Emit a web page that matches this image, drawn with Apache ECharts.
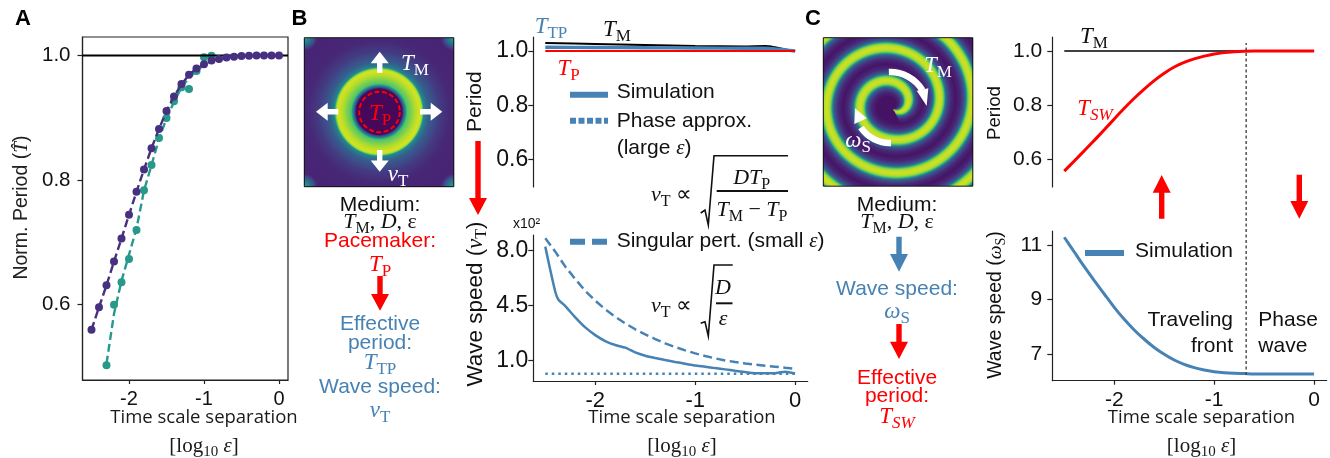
<!DOCTYPE html>
<html><head><meta charset="utf-8">
<style>html,body{margin:0;padding:0;background:#fff}#c{width:1330px;height:458px}</style>
<script src="https://cdn.jsdelivr.net/npm/echarts@6/dist/echarts.min.js"></script>
</head><body><div id="c"></div>
<script>
// ---- data ----
const xTicks = [-2, -1, 0];
const periodTicks = [0.6, 0.8, 1.0];
const speedTicksB = [1.0, 4.5, 8.0];
const speedTicksC = [7, 9, 11];
const epsA = [-2.5,-2.4,-2.3,-2.2,-2.1,-2.0,-1.9,-1.8,-1.7,-1.6,-1.5,-1.4,-1.3,-1.2,-1.1,-1.0,-0.9,-0.8,-0.7,-0.6,-0.5,-0.4,-0.3,-0.2,-0.1,0];
const purplePeriod = [0.5595,0.5955,0.631,0.669,0.706,0.744,0.781,0.817,0.851,0.882,0.911,0.934,0.954,0.969,0.979,0.986,0.992,0.9944,0.9966,0.998,0.999,0.9995,0.9998,1,1,1];
const tealEps = [-2.3,-2.2,-2.1,-2.0,-1.9,-1.8,-1.7,-1.6,-1.5,-1.4,-1.3,-1.2,-1.1,-1.0,-0.9];
const tealPeriod = [0.5023,0.5997,0.6356,0.673,0.7197,0.7835,0.824,0.8675,0.8996,0.9264,0.949,0.946,0.975,0.997,0.9995];
const tealFit = [0.505,0.585,0.638,0.68,0.722,0.783,0.824,0.866,0.899,0.925,0.949,0.964,0.975,0.985,0.99];
const epsB = [-2.5,-2.45,-2.4,-2.37,-2.3,-2.2,-2.1,-2.0,-1.9,-1.8,-1.7,-1.6,-1.5,-1.4,-1.3,-1.2,-1.1,-1.0,-0.9,-0.8,-0.7,-0.6,-0.5,-0.4,-0.3,-0.2,-0.1,0];
const simSpeedB = [8.26,6.77,5.39,4.9,4.48,3.76,3.12,2.63,2.25,2.0,1.83,1.53,1.32,1.17,1.04,0.92,0.81,0.70,0.62,0.53,0.45,0.36,0.28,0.21,0.2,0.21,0.3,0.19];
const epsC = [-2.5,-2.4,-2.3,-2.2,-2.1,-2.0,-1.9,-1.8,-1.7,-1.6,-1.5,-1.4,-1.3,-1.2,-1.1,-1.0,-0.9,-0.8,-0.7,-0.6,-0.5,-0.4,-0.3,-0.2,-0.1,0];
const singSpeedB = [8.79,7.94,6.99,6.2,5.44,4.82,4.27,3.8,3.38,3.0,2.68,2.38,2.1,1.87,1.66,1.47,1.3,1.15,1.02,0.92,0.83,0.75,0.68,0.62,0.55,0.49];
const phaseEps = [-2.5,0];
const phaseSpeedB = [0.17,0.17];
const tmEpsB = [-2.5,-2,-1.5,-1,-0.5,-0.3,-0.2,-0.1,0];
const tmPeriodB = [1.029,1.026,1.022,1.018,1.017,1.018,1.0135,1.006,1.0];
const ttpPeriodB = [1.014,1.013,1.012,1.011,1.01,1.01,1.008,1.004,1.0];
const tpPeriodB = [1,1,1,1,1,1,1,1,1];
const tswPeriod = [0.558,0.595,0.633,0.671,0.710,0.750,0.789,0.826,0.860,0.891,0.918,0.941,0.958,0.971,0.981,0.989,0.994,0.997,0.999,1,1,1,1,1,1,1];
const omegaSpeed = [11.28,10.74,10.2,9.69,9.2,8.71,8.27,7.88,7.54,7.24,6.99,6.78,6.62,6.5,6.41,6.35,6.31,6.29,6.28,6.27,6.27,6.27,6.27,6.27,6.27,6.27];
const transitionEps = -0.68;

// ---- helpers ----
const zip = (a,b)=>a.map((v,i)=>[v,b[i]]);
const RED='#ff0000', BLUE='#4682b4', INK='#1a1a1a';
const SANS='"Liberation Sans",Arial,sans-serif', SERIF='"Liberation Serif",serif', TITLE='"Open Sans",sans-serif';
const g=[];
function T(x,y,text,o={}){
  g.push({type:'text',x,y,rotation:o.rot||0,silent:true,z:50,style:{text,fontSize:o.size||21,fontFamily:o.font||SANS,fontWeight:o.weight||'normal',
    fontStyle:o.style||'normal',fill:o.color||'#111',align:o.align||'center',verticalAlign:'middle',rich:o.rich}});
}
function richFor(size,color){
  const s=Math.round(size*0.72);
  return {
    i:{fontFamily:SERIF,fontStyle:'italic',fontSize:size,fill:color,lineHeight:Math.round(size*1.3)},
    s:{fontFamily:SERIF,fontSize:s,fill:color,lineHeight:s,verticalAlign:'bottom'},
    si:{fontFamily:SERIF,fontStyle:'italic',fontSize:s,fill:color,lineHeight:s,verticalAlign:'bottom'},
    r:{fontFamily:SERIF,fontSize:size,fill:color,lineHeight:Math.round(size*1.3)},
    a:{fontFamily:SANS,fontSize:size,fill:color,lineHeight:Math.round(size*1.3)}
  };
}
function M(x,y,text,o={}){T(x,y,text,{...o,rich:richFor(o.size||23,o.color||'#111')});}
function poly(points,fill,z){g.push({type:'polygon',silent:true,z:z||40,shape:{points},style:{fill}});}
function line(x1,y1,x2,y2,st){g.push({type:'line',silent:true,z:40,shape:{x1,y1,x2,y2},style:{stroke:'#111',lineWidth:1,...st}});}
function vArrow(cx,y0,yb,yt,col,hw,sw){ // y0 shaft start, yb head base, yt tip
  hw=hw||9;sw=sw||2.7;
  poly([[cx-sw,y0],[cx+sw,y0],[cx+sw,yb],[cx+hw,yb],[cx,yt],[cx-hw,yb],[cx-sw,yb]],col);
}
function hArrow(cy,x0,xb,xt,col,hw,sw){
  hw=hw||9;sw=sw||2.7;
  poly([[x0,cy-sw],[x0,cy+sw],[xb,cy+sw],[xb,cy+hw],[xt,cy],[xb,cy-hw],[xb,cy-sw]],col);
}
// viridis colour lookup for the two illustrations
const VIR=[[68,1,84],[72,36,117],[65,68,135],[53,95,141],[42,120,142],[33,145,140],[34,168,132],[68,191,112],[122,209,81],[189,223,38],[253,231,37]];
function vir(v){v=Math.max(0,Math.min(0.9999,v))*10;const i=Math.floor(v),f=v-i;return VIR[i].map((c,k)=>c+(VIR[i+1][k]-c)*f);}
const ramp=(p,v)=>{for(let i=1;i<p.length;i++){if(v<=p[i][0]){const f=(v-p[i-1][0])/(p[i][0]-p[i-1][0]);return p[i-1][1]+(p[i][1]-p[i-1][1])*f;}}return p[p.length-1][1];};
function paint(w,h,fn){
  const c=document.createElement('canvas');c.width=w;c.height=h;const x=c.getContext('2d');const d=x.createImageData(w,h);
  for(let j=0;j<h;j++)for(let i=0;i<w;i++){const p=vir(fn(i+0.5,j+0.5));const k=(j*w+i)*4;d.data[k]=p[0];d.data[k+1]=p[1];d.data[k+2]=p[2];d.data[k+3]=255;}
  x.putImageData(d,0,0);return c;
}
const targetProfile=[[0,0.02],[23,0.02],[25,0.3],[28,0.72],[36,0.88],[41,0.94],[43,0.88],[45,0.45],[50,0.3],[60,0.18],[72,0.11],[90,0.1],[200,0.1]];
const targetImg=paint(150,150,(x,y)=>{
  const r=Math.hypot(x-75,y-74.5);let v=ramp(targetProfile,r);
  const corner=Math.min(Math.hypot(x,y),Math.hypot(150-x,y),Math.hypot(x,150-y),Math.hypot(150-x,150-y));
  if(corner<13)v=Math.max(v,0.62-corner*0.04);
  return v;
});
const spiralProfile=[[0,0.93],[3,0.88],[4.8,0.72],[6.2,0.42],[8,0.25],[12,0.11],[17,0.05],[60,0.05]];
const spiralImg=paint(150,149,(x,y)=>{
  const dx=x-(250-40)/3,dy=y-(328-113)/3;const r=Math.hypot(dx,dy);let th=Math.atan2(-dy,dx);if(th<0)th+=2*Math.PI;
  let best=1e9;
  for(let k=-1;k<5;k++){const t=th+2*Math.PI*k;if(t<-1.3)continue;
    const r0=(40+100*t/(2*Math.PI)-7.5*Math.cos(t)+20.5*Math.sin(t)+2.5*Math.cos(2*t))/3;
    if(r0<0)continue;
    best=Math.min(best,Math.abs(r-r0));}
  return ramp(spiralProfile,best);
});
function image(c,x,y,w,h){
  g.push({type:'image',silent:true,z:30,style:{image:c,x,y,width:w,height:h}});
  g.push({type:'rect',silent:true,z:31,shape:{x,y,width:w,height:h},style:{fill:'none',stroke:'#111',lineWidth:1}});
}

// ---- panel letters ----
T(23,19,'A',{size:22,weight:'bold',color:'#000'});
T(299.5,19,'B',{size:22,weight:'bold',color:'#000'});
T(813,19,'C',{size:22,weight:'bold',color:'#000'});

// ---- axis titles ----
function xTitle(cx){
  T(cx,417.3,'Time scale separation',{size:18.5,font:TITLE,color:'#1a1a1a'});
  M(cx,446,'{r|[log}{s|10}{r| }{i|ε}{r|]}',{size:21,color:'#1a1a1a'});
}
xTitle(204);xTitle(682);xTitle(1201.5);
M(22,207.5,'{a|Norm. Period (}{i|T\u0302}{a|)}',{size:19.5,rot:Math.PI/2,color:'#222'});
T(475.7,101.7,'Period',{size:21,rot:Math.PI/2,color:'#111'});
M(475.7,304,'{a|Wave speed (}{i|v}{s|T}{a|)}',{size:22.5,rot:Math.PI/2,color:'#111'});
T(995,113,'Period',{size:18.7,rot:Math.PI/2,color:'#111'});
M(996,305,'{a|Wave speed (}{i|ω}{s|S}{a|)}',{size:19.5,rot:Math.PI/2,color:'#111'});

// ---- panel B illustration ----
image(targetImg,304.3,37.7,149.5,149);
g.push({type:'circle',silent:true,z:35,shape:{cx:379.5,cy:112,r:20.3},style:{fill:'none',stroke:RED,lineWidth:2,lineDash:[5,2.5]}});
vArrow(379.7,72.7,63.3,51.7,'#fff');
vArrow(379.7,150,160.5,171.7,'#fff');
hArrow(111.7,420,430.7,442.3,'#fff');
hArrow(111.7,338.3,327.7,316,'#fff');
M(415,64,'{i|T}{s|M}',{color:'#fff'});
M(398,175,'{i|v}{s|T}',{color:'#fff'});
M(380,114,'{i|T}{s|P}',{color:RED});
// ---- panel B flow text ----
T(380,205,'Medium:',{size:21});
M(380,222,'{i|T}{s|M}{r|, }{i|D}{r|, ε}',{size:22});
T(380,241.7,'Pacemaker:',{size:21,color:RED});
M(380,265,'{i|T}{s|P}',{color:RED});
vArrow(380,276,294,310.7,RED);
T(380,324.3,'Effective',{size:21,color:BLUE});
T(380,343,'period:',{size:21,color:BLUE});
M(380,363,'{i|T}{s|TP}',{color:BLUE});
T(380,387.7,'Wave speed:',{size:21,color:BLUE});
M(380,411,'{i|v}{s|T}',{color:BLUE});
// ---- panel B chart notes ----
M(551,27,'{i|T}{s|TP}',{color:BLUE});
M(617,30,'{i|T}{s|M}',{color:'#111'});
M(568.5,69,'{i|T}{s|P}',{color:RED});
vArrow(478,141,198,215,RED);
// legend B
line(570,94.7,608,94.7,{stroke:BLUE,lineWidth:6});
T(616.7,92,'Simulation',{align:'left',size:21});
line(570,120.7,608,120.7,{stroke:BLUE,lineWidth:6,lineDash:[6,2.5]});
T(616.7,121.7,'Phase approx.',{align:'left',size:21});
M(616.7,148,'{a|(large }{i|ε}{a|)}',{align:'left',size:21});
line(570,241.7,608,241.7,{stroke:BLUE,lineWidth:6,lineDash:[15,7]});
M(616.7,241.7,'{a|Singular pert. (small }{i|ε}{a|)}',{align:'left',size:21});
T(513,224,'x10²',{align:'left',size:14});
// formula 1
M(671.5,195,'{i|v}{s|T}{r| ∝}',{size:22,color:'#111'});
g.push({type:'polyline',silent:true,z:40,shape:{points:[[700.7,213],[705,210],[708.3,225],[714,155.7],[788,155.7]]},style:{stroke:'#111',lineWidth:1.6,fill:'none'}});
line(716.7,191,788,191,{lineWidth:2});
M(751.7,178.5,'{i|DT}{s|P}',{size:22});
M(752,210,'{i|T}{s|M}{r| − }{i|T}{s|P}',{size:22});
// formula 2
M(671.5,306,'{i|v}{s|T}{r| ∝}',{size:22,color:'#111'});
g.push({type:'polyline',silent:true,z:40,shape:{points:[[700.7,323.3],[705,321.7],[708.3,336],[714,265],[732.7,265]]},style:{stroke:'#111',lineWidth:1.6,fill:'none'}});
line(716,303.3,732.5,303.3,{lineWidth:2});
M(723,288.5,'{i|D}',{size:22});
M(723,319,'{i|ε}',{size:22});

// ---- panel C illustration ----
image(spiralImg,823.3,37.7,149.5,148.5);
g.push({type:'arc',silent:true,z:36,shape:{cx:890,cy:110,r:38,startAngle:-Math.PI/2-0.03,endAngle:-0.55,clockwise:true},style:{fill:'none',stroke:'#fff',lineWidth:6.5}});
poly([[926.7,106],[916.7,90.7],[928.3,88.3]],'#fff',36);
g.push({type:'arc',silent:true,z:36,shape:{cx:890,cy:108,r:35,startAngle:Math.PI/2-0.03,endAngle:2.55,clockwise:true},style:{fill:'none',stroke:'#fff',lineWidth:6.5}});
poly([[855,108.3],[854.3,124],[866.7,118.3]],'#fff',36);
M(938,66,'{i|T}{s|M}',{color:'#fff'});
M(858,141,'{i|ω}{s|S}',{color:'#fff'});
// ---- panel C flow text ----
T(897,205,'Medium:',{size:21});
M(897,222,'{i|T}{s|M}{r|, }{i|D}{r|, ε}',{size:22});
vArrow(899,236.7,254,271.7,BLUE);
T(897,289.3,'Wave speed:',{size:21,color:BLUE});
M(897,312,'{i|ω}{s|S}',{color:BLUE});
vArrow(899,324,341.7,359,RED);
T(897,378.3,'Effective',{size:21,color:RED});
T(897,396.7,'period:',{size:21,color:RED});
M(897,417,'{i|T}{si|SW}',{color:RED});
// ---- panel C chart notes ----
M(1094,37,'{i|T}{s|M}');
M(1095,109,'{i|T}{si|SW}',{color:RED});
vArrow(1161.7,218.7,192.7,175,RED);
vArrow(1299.3,174.7,201,218.7,RED);
line(1085,253,1124,253,{stroke:BLUE,lineWidth:6});
T(1135,251.7,'Simulation',{align:'left',size:21});
T(1233,320,'Traveling',{align:'right',size:21});
T(1233,346.7,'front',{align:'right',size:21});
T(1258.3,320,'Phase',{align:'left',size:21});
T(1258.3,346.7,'wave',{align:'left',size:21});

// ---- grids & axes ----
const XMIN=-2.62, XMAX=0.126;
const grids=[
 {left:82.5,top:37,width:205.5,height:343,show:true,borderColor:'#222',borderWidth:1.2,backgroundColor:'transparent'},
 {left:533.3,top:37,width:274.4,height:150},
 {left:533.3,top:235,width:274.4,height:146},
 {left:1052.3,top:37,width:274.4,height:150},
 {left:1052.3,top:231,width:274.4,height:149.7},
 {left:1052.3,top:43,width:274.4,height:332}
];
const axisLine={show:true,lineStyle:{color:'#222',width:1.2}};
function xAx(i,show,size){return {type:'value',gridIndex:i,min:XMIN,max:i===0?0.12:XMAX,show,splitLine:{show:false},axisLine:{...axisLine,onZero:false},
  axisTick:{show:true,length:4,customValues:xTicks,lineStyle:{color:'#222',width:1.2}},
  axisLabel:{show:true,customValues:xTicks,fontFamily:SANS,fontSize:size,color:'#111',margin:9,formatter:v=>String(v)}};}
function yAx(i,min,max,ticks,size,margin,fmt){return {type:'value',gridIndex:i,min,max,splitLine:{show:false},axisLine:{...axisLine,onZero:false},
  axisTick:{show:true,length:5,customValues:ticks,lineStyle:{color:'#222',width:1.2}},
  axisLabel:{show:true,customValues:ticks,fontFamily:SANS,fontSize:size,color:'#111',margin,formatter:fmt}};}
const f1=v=>v.toFixed(1), f0=v=>v.toFixed(0);
const xAxes=[xAx(0,true,20),xAx(1,false,21),xAx(2,true,22),xAx(3,false,21),xAx(4,true,21),
  {type:'value',gridIndex:5,min:XMIN,max:XMAX,show:false}];
const yAxes=[yAx(0,0.4787,1.0297,periodTicks,20.5,12,f1),yAx(1,0.4995,1.0515,periodTicks,23,5,f1),yAx(2,-0.29,9,speedTicksB,23,5,f1),
  yAx(3,0.4995,1.0515,periodTicks,21,10,f1),yAx(4,6.02,11.51,speedTicksC,21,10,f0),{type:'value',gridIndex:5,min:0,max:1,show:false}];
function L(i,name,data,col,w,extra={}){return {type:'line',name,xAxisIndex:i,yAxisIndex:i,data,showSymbol:false,symbol:'none',silent:true,animation:false,
  lineStyle:{color:col,width:w,type:extra.dash||'solid',cap:'butt'},smooth:extra.smooth||false,z:extra.z||2,clip:extra.clip!==false};}
const PURPLE='#46307f',TEAL='#26998a';
const series=[
 L(0,'Teal fit',zip(tealEps,tealFit),TEAL,2.4,{dash:[8,4],z:2}),
 {type:'scatter',name:'Teal',xAxisIndex:0,yAxisIndex:0,data:zip(tealEps,tealPeriod),symbolSize:8,itemStyle:{color:TEAL,opacity:1},silent:true,animation:false,z:3},
 L(0,'Reference',[[XMIN,1],[0.12,1]],'#000',2,{z:4}),
 L(0,'Purple fit',zip(epsA,purplePeriod),PURPLE,2.4,{dash:[8,4],z:5}),
 {type:'scatter',name:'Purple',xAxisIndex:0,yAxisIndex:0,data:zip(epsA,purplePeriod),symbolSize:8,itemStyle:{color:PURPLE,opacity:1},silent:true,animation:false,z:6},
 L(1,'T_M',zip(tmEpsB,tmPeriodB),'#000',2,{smooth:0.3,z:2}),
 L(1,'T_TP',zip(tmEpsB,ttpPeriodB),BLUE,3.4,{smooth:0.3,z:3}),
 L(1,'T_P',zip(tmEpsB,tpPeriodB),RED,2,{z:4}),
 L(2,'Simulation',zip(epsB,simSpeedB),BLUE,2.5,{smooth:0.2,z:3}),
 L(2,'Singular pert.',zip(epsC,singSpeedB),BLUE,2.5,{dash:[9,4.5],z:3}),
 L(2,'Phase approx.',zip(phaseEps,phaseSpeedB),BLUE,2.5,{dash:[2.5,4],z:3}),
 L(3,'T_M',[[-2.5,1],[0,1]],'#000',1.5,{z:2}),
 L(3,'T_SW',zip(epsC,tswPeriod),RED,3,{smooth:0.3,z:3}),
 L(4,'Simulation',zip(epsC,omegaSpeed),BLUE,3,{smooth:0.3,z:3}),
 L(5,'Transition',[[transitionEps,0],[transitionEps,1]],'#444',1.4,{dash:[3,2.5],z:5})
];
const chart=echarts.init(document.getElementById('c'),null,{renderer:'canvas'});
chart.setOption({animation:false,backgroundColor:'#fff',grid:grids,xAxis:xAxes,yAxis:yAxes,series,graphic:{elements:g}});
</script></body></html>
